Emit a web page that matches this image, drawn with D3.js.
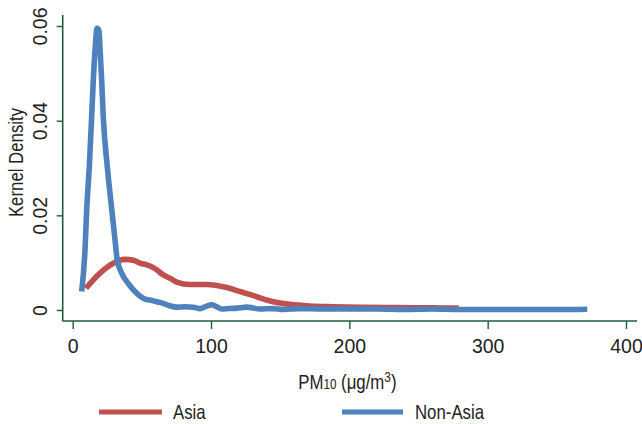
<!DOCTYPE html>
<html>
<head>
<meta charset="utf-8">
<script src="https://cdn.jsdelivr.net/npm/d3@7"></script>
<style>
  html, body { margin: 0; padding: 0; background: #fff; }
  svg { display: block; }
  text { font-family: "Liberation Sans", Arial, sans-serif; fill: #222; }
</style>
</head>
<body>
<svg id="chart" width="642" height="424"></svg>
<script>
// ---- data ----
const seriesNames = ["Asia", "Non-Asia"];
const asiaX = [9.6, 19.7, 29.4, 37.8, 44, 48.7, 55.9, 60.7, 65.5, 70.4, 75.2, 84.8, 96.9, 108.9, 121, 133, 145, 157, 171.6, 188.4, 210, 235, 260, 279];
const asiaY = [0.0046, 0.0078, 0.0099, 0.0107, 0.0105, 0.0099, 0.0093, 0.0085, 0.0074, 0.0067, 0.0059, 0.0054, 0.0054, 0.0049, 0.0039, 0.0028, 0.00175, 0.0012, 0.00085, 0.0007, 0.00057, 0.0005, 0.00045, 0.0004];
const nonAsiaX = [6.5, 8.9, 10.1, 12, 13.7, 14.9, 16.3, 17.6, 19, 19.7, 21, 22.1, 25, 27.5, 30.1, 32.2, 35.4, 40.2, 45, 52.3, 56, 60.7, 65.5, 70, 75.2, 81, 87.2, 92, 96, 100.5, 104, 107.7, 113, 118.6, 125.8, 135.4, 145, 152, 165, 180, 200, 220, 240, 260, 280, 300, 320, 340, 360, 372];
const nonAsiaY = [0.0039, 0.0127, 0.0211, 0.0303, 0.0408, 0.0486, 0.0556, 0.0595, 0.059, 0.0556, 0.0482, 0.0408, 0.0303, 0.0232, 0.0162, 0.0106, 0.0078, 0.0056, 0.0039, 0.0023, 0.0021, 0.00175, 0.0014, 0.0009, 0.0006, 0.0007, 0.0006, 0.0003, 0.0007, 0.0011, 0.0007, 0.0002, 0.0003, 0.0004, 0.0006, 0.0002, 0.0003, 0.0001, 0.0003, 0.0002, 0.0002, 0.0002, 0.0001, 0.0002, 0.0001, 0.00012, 0.0001, 0.0001, 0.0001, 0.00015];
const xTicks = [0, 100, 200, 300, 400];
const yTicks = [0, 0.02, 0.04, 0.06];
const yTitle = "Kernel Density";

// ---- layout ----
const svg = d3.select("#chart");
const axisColor = "#1e5f3a";
const colors = ["#c0504d", "#4f81bd"];
const narrow = 0.84;   // horizontal squeeze for the narrow label face
const x = d3.scaleLinear().domain([0, 400]).range([72.7, 626]);
const y = d3.scaleLinear().domain([0, 0.06]).range([310, 26]);
const axisX = 62.7, axisY = 321;

// axis lines
svg.append("line").attr("x1", axisX).attr("x2", axisX).attr("y1", 15).attr("y2", axisY)
  .attr("stroke", axisColor).attr("stroke-width", 1.6);
svg.append("line").attr("x1", axisX).attr("x2", 637).attr("y1", axisY).attr("y2", axisY)
  .attr("stroke", axisColor).attr("stroke-width", 1.6);

// y axis
const gy = svg.append("g").attr("transform", `translate(${axisX},0)`)
  .call(d3.axisLeft(y).tickValues(yTicks).tickSize(6)
    .tickFormat(d => d === 0 ? "0" : d.toFixed(2)));
gy.select(".domain").remove();
gy.selectAll(".tick line").attr("stroke", axisColor).attr("stroke-width", 1.4);
gy.selectAll(".tick text")
  .attr("transform", "rotate(-90)")
  .attr("x", 0).attr("y", -15.7).attr("dy", 0)
  .attr("text-anchor", "middle")
  .style("font-size", "19.5px").attr("fill", "#222");

// x axis
const gx = svg.append("g").attr("transform", `translate(0,${axisY})`)
  .call(d3.axisBottom(x).tickValues(xTicks).tickSize(8).tickFormat(d3.format("d")));
gx.select(".domain").remove();
gx.selectAll(".tick line").attr("stroke", axisColor).attr("stroke-width", 1.4);
gx.selectAll(".tick text").attr("y", 32.3).attr("dy", 0)
  .style("font-size", "19.5px").attr("fill", "#222");

// titles
svg.append("text").attr("transform", `translate(22.5,162.5) rotate(-90) scale(${narrow},1)`)
  .attr("text-anchor", "middle").style("font-size", "20px").text(yTitle);

const xt = svg.append("text").attr("transform", `translate(${x(200) - 2},389) scale(${narrow},1)`)
  .attr("text-anchor", "middle").style("font-size", "20px");
xt.append("tspan").text("PM");
xt.append("tspan").style("font-size", "14px").text("10");
xt.append("tspan").text(" (μg/m");
xt.append("tspan").style("font-size", "14px").attr("dy", -7).text("3");
xt.append("tspan").attr("dy", 7).text(")");

// lines
const line = d3.line().x(d => x(d[0])).y(d => y(d[1])).curve(d3.curveMonotoneX);
const asia = asiaX.map((v, i) => [v, asiaY[i]]);
const nonAsia = nonAsiaX.map((v, i) => [v, nonAsiaY[i]]);
[asia, nonAsia].forEach((pts, i) => {
  svg.append("path").datum(pts).attr("d", line)
    .attr("fill", "none").attr("stroke", colors[i])
    .attr("stroke-width", 5.6).attr("stroke-linejoin", "round");
});

// legend
const legendPos = [{x1: 99, x2: 162, tx: 173}, {x1: 342, x2: 403, tx: 415}];
seriesNames.forEach((name, i) => {
  const p = legendPos[i];
  svg.append("line").attr("x1", p.x1).attr("x2", p.x2).attr("y1", 412).attr("y2", 412)
    .attr("stroke", colors[i]).attr("stroke-width", 5);
  svg.append("text").attr("transform", `translate(${p.tx},419) scale(${narrow},1)`)
    .style("font-size", "20px").text(name);
});
</script>
</body>
</html>
